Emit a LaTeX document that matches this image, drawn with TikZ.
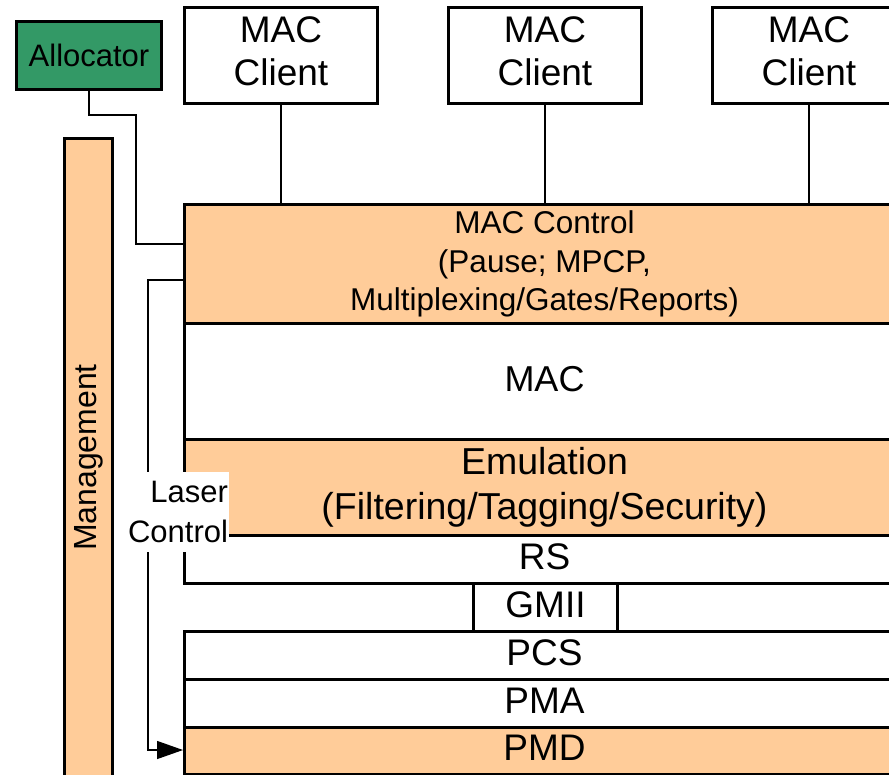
\documentclass[tikz,border=0pt]{standalone}
\usepackage{fontspec}
\setmainfont{Liberation Sans}
\usetikzlibrary{arrows.meta}
\definecolor{peach}{HTML}{FFCC99}
\definecolor{allocgreen}{HTML}{339966}
\begin{document}
\begin{tikzpicture}[x=1pt,y=-1pt,
  box/.style={draw=black, line width=3pt, rectangle, inner sep=0pt, anchor=north west},
  layer/.style={box, minimum width=720pt},
  client/.style={box, fill=white, minimum width=193pt, minimum height=96pt, align=center,
    font=\fontsize{37}{43}\selectfont, text depth=8pt},
  lowlayer/.style={layer, minimum height=48pt, font=\fontsize{37}{42}\selectfont,
    text height=27pt, text depth=8pt},
  conn/.style={draw=black, line width=1.3pt}]
\clip (0,0) rectangle (889,774);
\fill[white] (0,0) rectangle (889,774);

% clients
\node[client] (c1) at (183,6) {MAC\\Client};
\node[client] (c2) at (447,6) {MAC\\Client};
\node[client] (c3) at (711,6) {MAC\\Client};

% allocator
\node[box, fill=allocgreen, minimum width=145pt, minimum height=68pt,
  font=\fontsize{31}{36}\selectfont] (alloc) at (15,20) {Allocator};

% management
\node[box, fill=peach, minimum width=48pt, minimum height=638pt] (mgmt) at (63,137) {};
\node[rotate=90, font=\fontsize{32}{36}\selectfont] (mgmtlabel) at (mgmt.center) {Management};

% layers
\node[layer, fill=peach, minimum height=119pt, align=center,
  font=\fontsize{31.5}{38.5}\selectfont] (macctl) at (183,203)
  {MAC Control\\(Pause; MPCP,\\Multiplexing/Gates/Reports)};
\node[layer, fill=white, minimum height=116pt, font=\fontsize{36}{42}\selectfont,
  text depth=6pt] (mac) at (183,322) {MAC};
\node[layer, fill=peach, minimum height=96pt, align=center,
  font=\fontsize{37.5}{45}\selectfont] (emu) at (183,438)
  {Emulation\\(Filtering/Tagging/Security)};
\node[lowlayer, fill=white] (rs) at (183,534) {RS};
\node[box, fill=white, minimum width=144pt, minimum height=48pt,
  font=\fontsize{37}{42}\selectfont, text height=27pt, text depth=8pt] (gmii) at (472,582) {GMII};
\node[lowlayer, fill=white] (pcs) at (183,630) {PCS};
\node[lowlayer, fill=white] (pma) at (183,678) {PMA};
\node[lowlayer, fill=peach, minimum height=47pt] (pmd) at (183,726) {PMD};

% client connectors
\draw[conn] (c1.south) -- (c1.south |- macctl.north);
\draw[conn] (c2.south) -- (c2.south |- macctl.north);
\draw[conn] (c3.south) -- (c3.south |- macctl.north);

% allocator connector
\draw[conn] (alloc.south) -- (alloc.south |- 0,115) -| (136,244) -- (macctl.west |- 0,244);

% laser control
\draw[conn, -{Triangle[length=26pt, width=18pt]}]
  (macctl.west |- 0,280) -| (148,750) -- (pmd.west |- 0,750);
\node[fill=white, minimum width=102pt, minimum height=80pt, inner sep=0pt,
  align=right, text width=100pt, font=\fontsize{31}{40}\selectfont] (laser) at (178,512)
  {Laser\\Control};
\end{tikzpicture}
\end{document}
